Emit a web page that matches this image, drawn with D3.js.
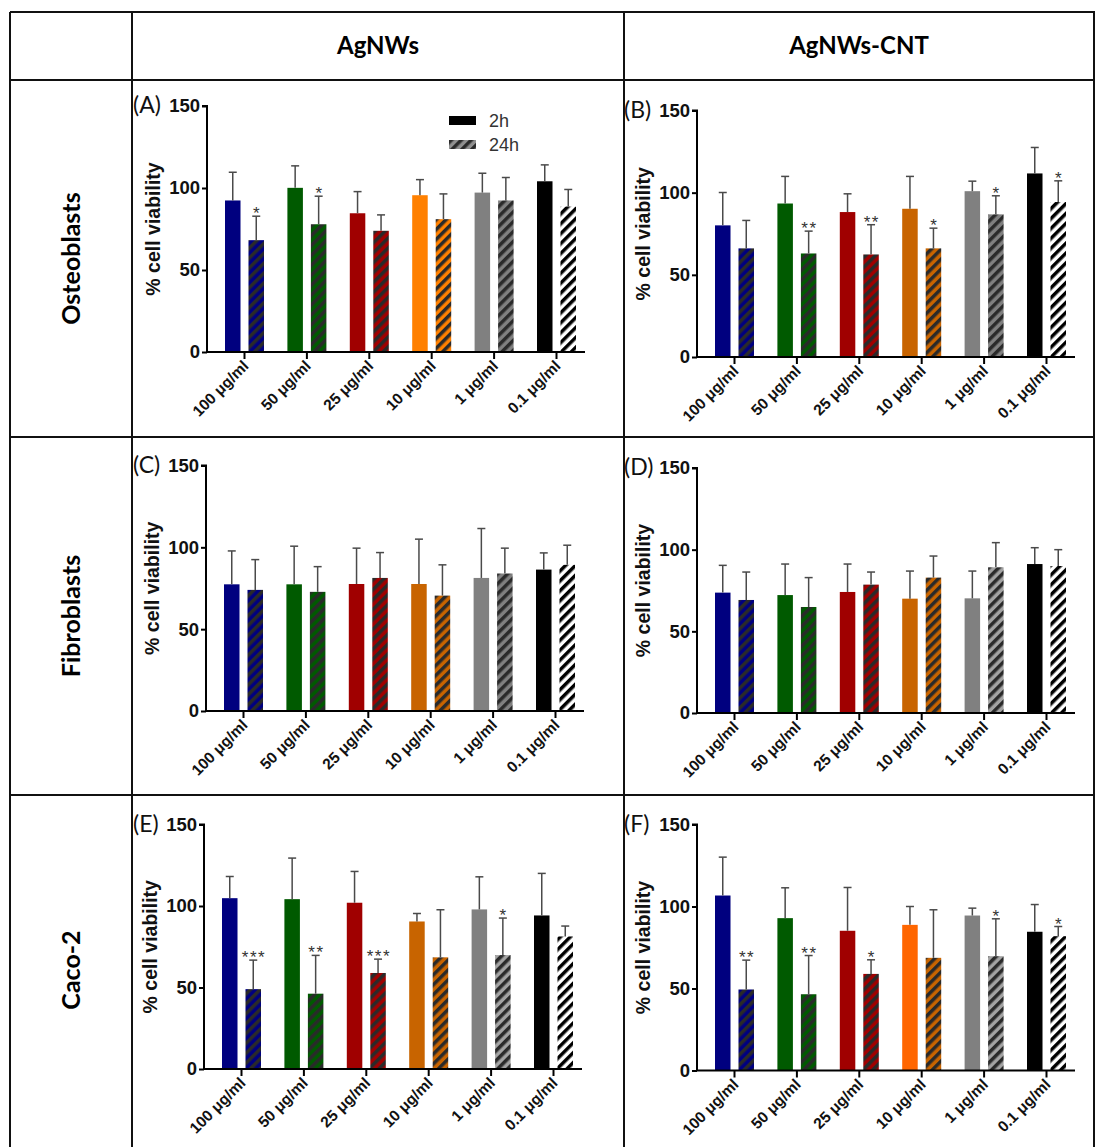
<!DOCTYPE html>
<html>
<head>
<meta charset="utf-8">
<script src="https://cdn.jsdelivr.net/npm/d3@7"></script>
<style>
  body { margin: 0; background: #fff; }
  svg { display: block; }
</style>
</head>
<body>
<div class="chart"></div>
<script>
// ---- data ----
const concentrations = ['100 μg/ml', '50 μg/ml', '25 μg/ml', '10 μg/ml', '1 μg/ml', '0.1 μg/ml']
const times = ['2h', '24h']
const materials = ['AgNWs', 'AgNWs-CNT']
const cellLines = ['Osteoblasts', 'Fibroblasts', 'Caco-2']
const panelIds = ['A', 'B', 'C', 'D', 'E', 'F']
const yTicks = [0, 50, 100, 150]

// mean % viability per concentration, [2h, 24h]
const meanA = [[92.4, 68.2], [100.1, 77.9], [84.6, 73.9], [95.6, 81.0], [97.2, 92.4], [104.1, 88.7]]
const meanB = [[80.1, 66.1], [93.4, 63.0], [88.2, 62.4], [90.2, 66.1], [100.9, 86.8], [111.7, 94.3]]
const meanC = [[77.4, 74.0], [77.4, 72.8], [77.6, 81.3], [77.6, 70.5], [81.3, 84.0], [86.4, 89.3]]
const meanD = [[73.7, 69.2], [72.2, 64.9], [74.1, 78.6], [70.0, 82.9], [70.2, 89.2], [91.2, 90.0]]
const meanE = [[104.8, 49.0], [104.2, 46.2], [102.0, 58.9], [90.5, 68.5], [97.9, 69.9], [94.2, 81.3]]
const meanF = [[106.7, 49.4], [92.9, 46.5], [85.2, 58.9], [88.8, 68.7], [94.5, 69.7], [84.6, 81.9]]

// upper error (SD) per concentration, [2h, 24h]
const sdA = [[17.2, 14.6], [13.4, 17.1], [13.2, 9.7], [9.5, 15.4], [11.8, 14.0], [10.0, 10.4]]
const sdB = [[20.0, 17.0], [16.5, 13.6], [11.1, 18.1], [19.7, 12.3], [6.1, 11.3], [15.8, 12.9]]
const sdC = [[20.4, 18.5], [23.3, 15.4], [21.9, 15.5], [27.4, 18.8], [30.2, 15.5], [10.2, 12.0]]
const sdD = [[16.7, 17.1], [19.0, 18.0], [17.1, 7.7], [16.9, 13.2], [16.7, 15.1], [10.0, 10.0]]
const sdE = [[13.3, 17.8], [25.2, 23.5], [19.2, 8.5], [4.9, 29.2], [20.0, 22.7], [25.8, 6.4]]
const sdF = [[23.4, 17.9], [18.5, 23.6], [26.4, 8.6], [11.2, 29.3], [4.5, 22.8], [16.6, 5.9]]

// significance marks, [2h, 24h]
const sigA = [['', '*'], ['', '*'], ['', ''], ['', ''], ['', ''], ['', '']]
const sigB = [['', ''], ['', '**'], ['', '**'], ['', '*'], ['', '*'], ['', '*']]
const sigC = [['', ''], ['', ''], ['', ''], ['', ''], ['', ''], ['', '']]
const sigD = [['', ''], ['', ''], ['', ''], ['', ''], ['', ''], ['', '']]
const sigE = [['', '***'], ['', '**'], ['', '***'], ['', ''], ['', '*'], ['', '']]
const sigF = [['', '**'], ['', '**'], ['', '*'], ['', ''], ['', '*'], ['', '*']]

const means = [meanA, meanB, meanC, meanD, meanE, meanF]
const sds = [sdA, sdB, sdC, sdD, sdE, sdF]
const sigs = [sigA, sigB, sigC, sigD, sigE, sigF]

// ---- styling / layout ----
const W = 1095, H = 1147
const navy = '#00007f', green = '#005a00', red = '#a00000', grey = '#808080'
const orangeBright = '#ff8000', orangeDark = '#c86400', orangeRed = '#ff6600', greyLight = '#a3a3a3'
// colours per panel: [concentration][time]
const panelColours = [
    [[navy, navy], [green, green], [red, red], [orangeBright, orangeBright], [grey, grey], ['#000', '#fff']],
    [[navy, navy], [green, green], [red, red], [orangeDark, orangeDark], [grey, grey], ['#000', '#fff']],
    [[navy, navy], [green, green], [red, red], [orangeDark, orangeDark], [grey, grey], ['#000', '#fff']],
    [[navy, navy], [green, green], [red, red], [orangeDark, orangeDark], [grey, greyLight], ['#000', '#fff']],
    [[navy, navy], [green, green], [red, red], [orangeDark, orangeDark], [grey, greyLight], ['#000', '#fff']],
    [[navy, navy], [green, green], [red, red], [orangeRed, orangeDark], [grey, greyLight], ['#000', '#fff']]
]
// axis origin (x of y-axis, y of 0 and of 150) per panel
const panelLayout = [
    { x: 207, y0: 352, y1: 106, lx: 133 },
    { x: 697, y0: 357, y1: 110.5, lx: 624 },
    { x: 206, y0: 711, y1: 465.5, lx: 133 },
    { x: 697, y0: 713, y1: 468, lx: 624 },
    { x: 204, y0: 1069, y1: 824.5, lx: 133 },
    { x: 697, y0: 1070.5, y1: 824.5, lx: 624 }
]
const colX = [10, 132, 624, 1094]
const rowY = [12, 80, 437, 795, 1160]
const armFont = '"Liberation Sans", Arial, sans-serif'
const capFont = 'Lato, Carlito, Calibri, sans-serif'

const svg = d3.select('.chart').append('svg')
    .attr('width', W)
    .attr('height', H)
    .style('background', '#fff')

const defs = svg.append('defs')
let patternCount = 0
const patternCache = {}
function hatch(colour) {
    if (patternCache[colour]) return patternCache[colour]
    const id = 'hatch' + (patternCount++)
    const p = defs.append('pattern')
        .attr('id', id)
        .attr('patternUnits', 'userSpaceOnUse')
        .attr('width', 7)
        .attr('height', 10)
        .attr('patternTransform', 'rotate(45)')
    p.append('rect').attr('width', 7).attr('height', 10).attr('fill', colour)
    p.append('rect').attr('width', 3.5).attr('height', 10)
        .attr('fill', colour === '#fff' ? '#000' : '#2a2a2a')
    patternCache[colour] = `url(#${id})`
    return patternCache[colour]
}

// ---- table grid ----
const grid = svg.append('g').attr('stroke', '#111').attr('stroke-width', 2)
colX.forEach(x => grid.append('line').attr('x1', x).attr('x2', x).attr('y1', rowY[0]).attr('y2', H + 5))
rowY.slice(0, 4).forEach(y => grid.append('line').attr('x1', colX[0]).attr('x2', W + 5).attr('y1', y).attr('y2', y))

materials.forEach((m, i) => {
    svg.append('text')
        .attr('x', (colX[i + 1] + colX[i + 2]) / 2)
        .attr('y', (rowY[0] + rowY[1]) / 2)
        .attr('dy', '0.35em')
        .attr('text-anchor', 'middle')
        .style('font-family', capFont)
        .style('font-weight', 'bold')
        .style('font-size', '24px')
        .text(m)
})

cellLines.forEach((c, i) => {
    const cy = i < 2 ? (rowY[i + 1] + rowY[i + 2]) / 2 : 970
    svg.append('text')
        .attr('transform', `translate(${(colX[0] + colX[1]) / 2 + 9}, ${cy}) rotate(-90)`)
        .attr('text-anchor', 'middle')
        .style('font-family', capFont)
        .style('font-weight', 'bold')
        .style('font-size', '25px')
        .text(c)
})

// ---- panels ----
panelIds.forEach((id, p) => drawPanel(id, p))

function drawPanel(id, p) {
    const L = panelLayout[p]
    const g = svg.append('g')

    const y = d3.scaleLinear().domain([0, 150]).range([L.y0, L.y1])
    const x = d3.scaleBand().domain(concentrations)
        .range([L.x + 6.3, L.x + 6.3 + 6 * 62.4])
        .paddingInner(0.375).paddingOuter(0.1875)
    const xSub = d3.scaleBand().domain(times).range([0, x.bandwidth()]).paddingInner(0.34)

    const rows = []
    concentrations.forEach((c, i) => times.forEach((t, j) => rows.push({
        c, t, mean: means[p][i][j], sd: sds[p][i][j], sig: sigs[p][i][j], colour: panelColours[p][i][j]
    })))

    // bars
    g.selectAll('rect.bar').data(rows).enter().append('rect')
        .attr('class', 'bar')
        .attr('x', d => x(d.c) + xSub(d.t))
        .attr('y', d => y(d.mean))
        .attr('width', xSub.bandwidth())
        .attr('height', d => y(0) - y(d.mean))
        .attr('fill', d => d.t === '2h' ? d.colour : hatch(d.colour))

    // error bars (upper only)
    const eb = g.selectAll('g.err').data(rows).enter().append('g')
        .attr('class', 'err')
        .attr('stroke', '#4a4a4a')
        .attr('stroke-width', 1.5)
    eb.append('line')
        .attr('x1', d => x(d.c) + xSub(d.t) + xSub.bandwidth() / 2)
        .attr('x2', d => x(d.c) + xSub(d.t) + xSub.bandwidth() / 2)
        .attr('y1', d => y(d.mean))
        .attr('y2', d => y(d.mean + d.sd))
    eb.append('line')
        .attr('x1', d => x(d.c) + xSub(d.t) + xSub.bandwidth() / 2 - 4)
        .attr('x2', d => x(d.c) + xSub(d.t) + xSub.bandwidth() / 2 + 4)
        .attr('y1', d => y(d.mean + d.sd))
        .attr('y2', d => y(d.mean + d.sd))

    // significance stars
    g.selectAll('text.sig').data(rows.filter(d => d.sig)).enter().append('text')
        .attr('class', 'sig')
        .attr('x', d => x(d.c) + xSub(d.t) + xSub.bandwidth() / 2 + 0.8)
        .attr('y', d => y(d.mean + d.sd) + 3)
        .attr('text-anchor', 'middle')
        .style('font-family', armFont)
        .style('font-size', '17px')
        .style('letter-spacing', '1.5px')
        .style('fill', '#333')
        .text(d => d.sig)

    // y axis
    const yAxis = d3.axisLeft(y).tickValues(yTicks).tickSize(5).tickPadding(2)
    const gy = g.append('g')
        .attr('transform', `translate(${L.x}, 0)`)
        .call(yAxis)
    gy.selectAll('.domain, .tick line').attr('stroke', '#000').attr('stroke-width', 2)
    gy.select('.domain').attr('d', `M-5,${y(150)}H0V${y(0)}`)
    gy.selectAll('.tick text')
        .style('font-family', armFont)
        .style('font-weight', 'bold')
        .style('font-size', '18.5px')
        .attr('fill', '#111')

    // x axis
    const xAxis = d3.axisBottom(x).tickSize(7).tickSizeOuter(0).tickFormat('')
    const gx = g.append('g')
        .attr('transform', `translate(0, ${L.y0})`)
        .call(xAxis)
    gx.select('.domain').attr('d', `M${L.x - 1},0H${L.x + 378}`)
    gx.selectAll('.domain, .tick line').attr('stroke', '#000').attr('stroke-width', 2)
    gx.selectAll('.tick').append('text')
        .attr('transform', 'translate(5, 15) rotate(-45)')
        .attr('text-anchor', 'end')
        .attr('fill', '#111')
        .style('font-family', armFont)
        .style('font-weight', 'bold')
        .style('font-size', '15.5px')
        .text(d => d)

    // y title
    g.append('text')
        .attr('transform', `translate(${L.x - 47}, ${(y(0) + y(150)) / 2}) rotate(-90)`)
        .attr('text-anchor', 'middle')
        .style('font-family', armFont)
        .style('font-weight', 'bold')
        .style('font-size', '19.5px')
        .attr('fill', '#111')
        .text('% cell viability')

    // panel letter
    g.append('text')
        .attr('x', L.lx)
        .attr('y', y(150) - 1)
        .attr('dy', '0.35em')
        .style('font-family', capFont)
        .style('font-size', '23px')
        .attr('fill', '#111')
        .text(`(${id})`)

    if (p === 0) drawLegend(L)
}

function drawLegend(L) {
    const items = [{ t: '2h', fill: '#000' }, { t: '24h', fill: hatch('#909090') }]
    const lg = svg.append('g').attr('transform', `translate(449, 116)`)
    const row = lg.selectAll('g').data(items).enter().append('g')
        .attr('transform', (d, i) => `translate(0, ${i * 24})`)
    row.append('rect').attr('width', 27).attr('height', 9).attr('fill', d => d.fill)
    row.append('text')
        .attr('x', 40).attr('y', 4.5).attr('dy', '0.35em')
        .style('font-family', armFont)
        .style('font-size', '18px')
        .style('fill', '#333')
        .text(d => d.t)
}
</script>
</body>
</html>
